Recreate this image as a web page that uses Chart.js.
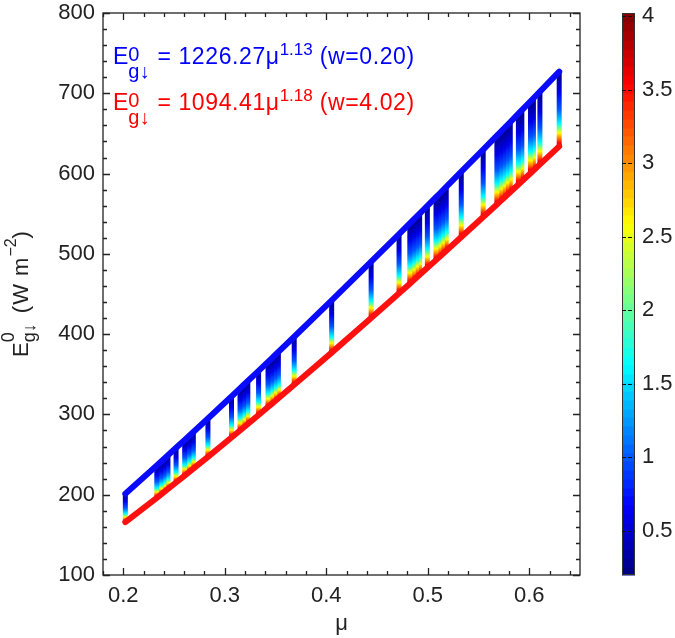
<!DOCTYPE html>
<html><head><meta charset="utf-8">
<script src="https://cdn.jsdelivr.net/npm/chart.js@4.4.1/dist/chart.umd.min.js"></script>
<style>html,body{margin:0;padding:0;background:#fff;}#wrap{position:relative;width:675px;height:638px;}</style>
</head><body><div id="wrap"><canvas id="c" width="675" height="638"></canvas></div>
<script>
// ---- data ----
const muValues = [0.202,0.233,0.237,0.240,0.244,0.252,0.2605,0.2647,0.269,0.2834,0.3066,0.315,0.3185,0.3227,0.3333,0.3426,0.346,0.3494,0.3528,0.3684,0.4053,0.4442,0.4717,0.4823,0.4857,0.489,0.492,0.4996,0.5081,0.511,0.5144,0.5182,0.533,0.5546,0.5681,0.5716,0.5745,0.5779,0.5813,0.5893,0.5927,0.6012,0.6041,0.6105,0.6295];
const eTopBlue = [201.2,236.4,241.0,244.5,249.1,258.4,268.2,273.1,278.1,295.0,322.4,332.4,336.6,341.6,354.3,365.5,369.6,373.7,377.9,396.8,442.0,490.2,524.6,537.9,542.2,546.4,550.2,559.8,570.6,574.2,578.6,583.4,602.3,629.9,647.3,651.8,655.5,659.9,664.2,674.6,679.0,690.0,693.8,702.1,726.9];
const eBottomRed = [165.8,196.2,200.2,203.2,207.2,215.2,223.8,228.1,232.5,247.2,271.3,280.0,283.7,288.1,299.3,309.2,312.8,316.4,320.1,336.9,377.0,420.0,450.9,462.9,466.7,470.5,473.9,482.6,492.2,495.6,499.4,503.8,520.9,545.9,561.5,565.7,569.0,573.0,576.9,586.3,590.3,600.4,603.8,611.4,633.9];
const xTicks = [0.2,0.3,0.4,0.5,0.6];
const yTicks = [100,200,300,400,500,600,700,800];
const wTicks = [0.5,1,1.5,2,2.5,3,3.5,4];
const wRange = [0.20, 4.02];
const fitBlue = {coef:'1226.27', exp:'1.13', w:'0.20'};
const fitRed = {coef:'1094.41', exp:'1.18', w:'4.02'};

// ---- style ----
const FONT = '"Liberation Sans", Arial, Helvetica, sans-serif';
const TXT = '#222';
// position along a segment (0=top,1=bottom) for given w
const gradStops = [[0,0.2],[0.28,0.6],[0.5,1.0],[0.7,1.63],[0.76,2.1],[0.82,2.59],[0.89,3.07],[0.95,3.5],[1,4.02]];

function jet(t){
  t=Math.max(0,Math.min(1,t));
  const c=v=>Math.round(255*Math.max(0,Math.min(1,v)));
  return 'rgb('+c(1.5-Math.abs(4*t-3))+','+c(1.5-Math.abs(4*t-2))+','+c(1.5-Math.abs(4*t-1))+')';
}
const wT = w => (w-wRange[0])/(wRange[1]-wRange[0]);

function segColor(ctx){
  const chart=ctx.chart, ys=chart.scales.y;
  const ds=chart.data.datasets[ctx.datasetIndex];
  if(!ys||!chart.chartArea||!ds) return '#0000ff';
  const yT=ys.getPixelForValue(ds.data[1].y), yB=ys.getPixelForValue(ds.data[0].y);
  if(!isFinite(yT)||!isFinite(yB)||Math.abs(yB-yT)<1) return '#0000ff';
  const g=chart.ctx.createLinearGradient(0,yT,0,yB);
  gradStops.forEach(([f,w])=>g.addColorStop(f,jet(wT(w))));
  return g;
}

const datasets=[];
datasets.push({label:'blue',data:muValues.map((m,i)=>({x:m,y:eTopBlue[i]})),showLine:true,borderColor:'#0a0aff',borderWidth:6,pointRadius:0,borderCapStyle:'round',order:0});
datasets.push({label:'red',data:muValues.map((m,i)=>({x:m,y:eBottomRed[i]})),showLine:true,borderColor:'#ff1010',borderWidth:6,pointRadius:0,borderCapStyle:'round',order:0});
muValues.forEach((m,i)=>{
  datasets.push({label:'s'+i,data:[{x:m,y:eBottomRed[i]},{x:m,y:eTopBlue[i]}],showLine:true,borderColor:segColor,borderWidth:5,pointRadius:0,borderCapStyle:'butt',order:5});
});

function drawRich(c,x,y,parts,color){
  c.save(); c.fillStyle=color; c.textBaseline='alphabetic'; c.textAlign='left';
  let cx=x;
  for(const p of parts){
    if(p.sup!==undefined){
      c.font=p.s+'px '+FONT; c.letterSpacing='0px';
      const w1=c.measureText(p.sup).width, w2=c.measureText(p.sub).width;
      c.fillText(p.sup,cx,y-p.rise); c.fillText(p.sub,cx,y+p.drop);
      cx+=Math.max(w1,w2)+(p.gap||0);
    } else {
      c.font=p.s+'px '+FONT; c.letterSpacing=(p.ls||0)+'px';
      c.fillText(p.t,cx+(p.dx||0),y-(p.rise||0));
      cx+=c.measureText(p.t).width+(p.dx||0);
    }
  }
  c.letterSpacing='0px';
  c.restore();
  return cx-x;
}
function richWidth(c,parts){
  let w=0;
  for(const p of parts){
    c.font=p.s+'px '+FONT;
    if(p.sup!==undefined){c.letterSpacing='0px';w+=Math.max(c.measureText(p.sup).width,c.measureText(p.sub).width)+(p.gap||0);}
    else {c.letterSpacing=(p.ls||0)+'px';w+=c.measureText(p.t).width+(p.dx||0);}
  }
  c.letterSpacing='0px';
  return w;
}
function fitParts(f){
  return [{t:'E',s:23},{sup:'0',sub:'g\u2193',s:20,rise:3,drop:14,gap:1},{t:' = '+f.coef+'\u03bc',s:23,ls:0.6},{t:f.exp,s:17,rise:9},{t:' (w='+f.w+')',s:23,ls:0.6}];
}

const decor={
  id:'decor',
  afterDraw(chart){
    const c=chart.ctx, a=chart.chartArea, xs=chart.scales.x, ys=chart.scales.y, cb=chart.scales.cb;
    c.save();
    // frame + ticks
    c.strokeStyle=TXT; c.lineWidth=1.3;
    c.strokeRect(a.left,a.top,a.right-a.left,a.bottom-a.top);
    c.beginPath();
    for(let k=0;k<=23;k++){
      const v=0.18+0.02*k; if(v>0.65+1e-9) break;
      const px=Math.round(xs.getPixelForValue(v))+0.5;
      const major=xTicks.some(t=>Math.abs(t-v)<1e-6); const L=major?7:4;
      c.moveTo(px,a.bottom); c.lineTo(px,a.bottom-L);
      c.moveTo(px,a.top); c.lineTo(px,a.top+L);
    }
    for(let v=100;v<=800;v+=20){
      const py=Math.round(ys.getPixelForValue(v))+0.5;
      const major=v%100===0; const L=major?7:4;
      c.moveTo(a.left,py); c.lineTo(a.left+L,py);
      c.moveTo(a.right,py); c.lineTo(a.right-L,py);
    }
    c.stroke();
    // colorbar
    const bx=cb.left+42, bw=13, yTop=cb.getPixelForValue(wRange[1]), yBot=cb.getPixelForValue(wRange[0]);
    const n=64;
    for(let k=0;k<n;k++){
      const y0=yBot-(yBot-yTop)*k/n, y1=yBot-(yBot-yTop)*(k+1)/n;
      c.fillStyle=jet((k+0.5)/n);
      c.fillRect(bx,Math.floor(y1),bw,Math.ceil(y0)-Math.floor(y1)+0.5);
    }
    c.strokeStyle='#333'; c.lineWidth=1;
    c.strokeRect(bx+0.5,yTop+0.5,bw-1,yBot-yTop-1);
    c.setLineDash([4,2]); c.strokeStyle='#111'; c.lineWidth=1;
    c.beginPath();
    wTicks.forEach(w=>{const py=Math.round(cb.getPixelForValue(w))+0.5; c.moveTo(bx,py); c.lineTo(bx+bw,py);});
    c.stroke(); c.setLineDash([]);
    // fit annotations
    drawRich(c,113,63.5,fitParts(fitBlue),'#0000ff');
    drawRich(c,113,110,fitParts(fitRed),'#ff0000');
    // x title
    c.fillStyle=TXT; c.font='22px '+FONT; c.textAlign='center'; c.textBaseline='alphabetic';
    c.fillText('\u03bc',(a.left+a.right)/2,630);
    // y title (rotated)
    const yParts=[{t:'E',s:22},{sup:'0',sub:'g\u2193',s:18,rise:14,drop:7,gap:3},{t:' (W m',s:22,ls:1},{t:'\u22122',s:16,rise:12},{t:')',s:22}];
    const tw=richWidth(c,yParts);
    c.save(); c.translate(28,(a.top+a.bottom)/2); c.rotate(-Math.PI/2);
    drawRich(c,-tw/2,0,yParts,TXT);
    c.restore();
    c.restore();
  }
};

const noVPad = s=>{s.paddingTop=0;s.paddingBottom=0;};
const tickFont={family:FONT,size:22};
new Chart(document.getElementById('c'),{
  type:'scatter',
  data:{datasets},
  options:{
    responsive:false, animation:false, devicePixelRatio:1,
    layout:{padding:{top:13,left:0,right:0,bottom:0}},
    plugins:{legend:{display:false},tooltip:{enabled:false}},
    events:[],
    scales:{
      x:{type:'linear',position:'bottom',min:0.18,max:0.65,
        afterBuildTicks:s=>{s.ticks=xTicks.map(v=>({value:v}));},
        afterFit:s=>{s.height=63;s.paddingLeft=0;s.paddingRight=0;},
        grid:{display:false,drawTicks:false},border:{display:false},
        ticks:{font:tickFont,color:TXT,padding:8,maxRotation:0,autoSkip:false,callback:v=>Number(v).toFixed(1)}},
      y:{type:'linear',position:'left',min:100,max:800,
        afterBuildTicks:s=>{s.ticks=yTicks.map(v=>({value:v}));},
        afterFit:s=>{s.width=103;noVPad(s);},
        grid:{display:false,drawTicks:false},border:{display:false},
        ticks:{font:tickFont,color:TXT,padding:8,autoSkip:false,callback:v=>String(v)}},
      cb:{type:'linear',position:'right',min:wRange[0],max:wRange[1],
        afterBuildTicks:s=>{s.ticks=wTicks.map(v=>({value:v}));},
        afterFit:s=>{s.width=95;noVPad(s);},
        grid:{display:false,drawTicks:false},border:{display:false},
        ticks:{font:tickFont,color:TXT,padding:62,autoSkip:false,callback:v=>String(v)}}
    }
  },
  plugins:[decor]
});
</script>
</body></html>
